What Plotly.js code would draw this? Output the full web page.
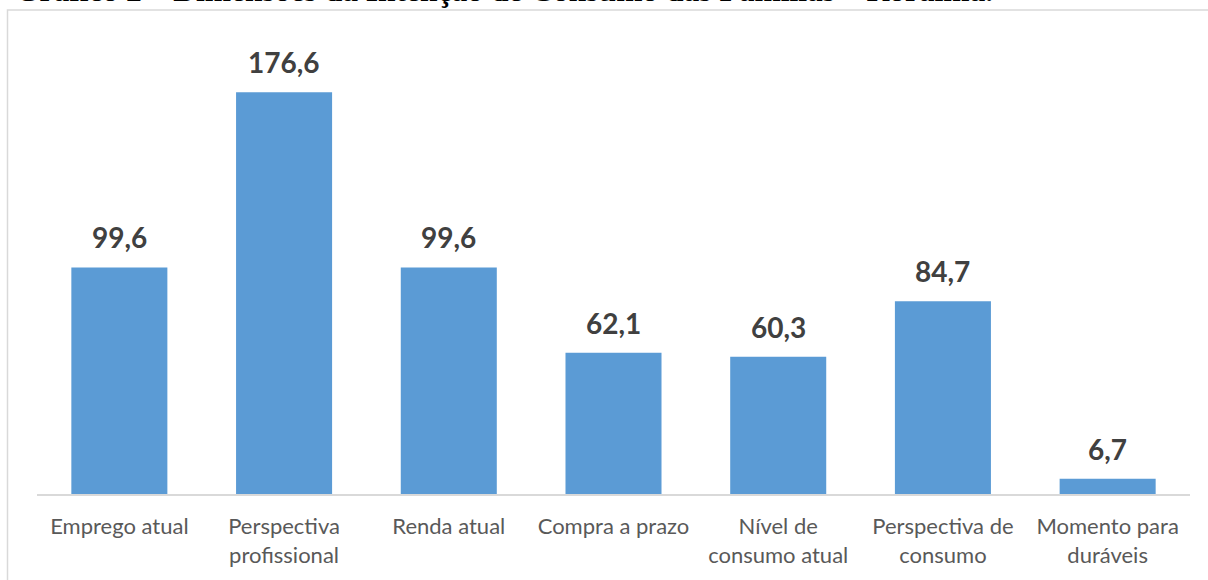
<!DOCTYPE html>
<html>
<head>
<meta charset="utf-8">
<script src="https://cdn.plot.ly/plotly-3.0.1.min.js"></script>
<style>html,body{margin:0;padding:0;background:#fff;}#chart{width:1208px;height:580px;}</style>
</head>
<body>
<div id="chart"></div>
<script>
const categories = ["Emprego atual", "Perspectiva<br>profissional", "Renda atual", "Compra a prazo", "Nível de<br>consumo atual", "Perspectiva de<br>consumo", "Momento para<br>duráveis"];
const values = [99.6, 176.6, 99.6, 62.1, 60.3, 84.7, 6.7];
const titleText = "Gráfico 2 – Dimensões da Intenção de Consumo das Famílias – Roraima.";

const W = 1208, H = 580;
const m = {l: 37, r: 18, t: 39, b: 86};
const pw = W - m.l - m.r, ph = H - m.t - m.b;
const px = x => (x - m.l) / pw;
const py = y => (H - m.b - y) / ph;

const fmt = v => v.toFixed(1).replace('.', ',');

const annotations = values.map((v, i) => ({
  x: categories[i], y: v, xref: 'x', yref: 'y',
  text: '<b>' + fmt(v) + '</b>', showarrow: false,
  yanchor: 'bottom', yshift: 11,
  font: {family: 'Lato, sans-serif', size: 28, color: '#404040'}
}));
annotations.push({
  xref: 'paper', yref: 'paper', x: px(13), y: py(-9), xanchor: 'left', yanchor: 'middle',
  text: '<b>' + titleText + '</b>', showarrow: false,
  font: {family: 'Liberation Serif, Times New Roman, serif', size: 31.5, color: '#000'}
});

Plotly.newPlot('chart', [{
  type: 'bar', x: categories, y: values,
  marker: {color: '#5B9BD5'}, hoverinfo: 'skip'
}], {
  width: W, height: H, margin: m,
  paper_bgcolor: '#fff', plot_bgcolor: '#fff',
  bargap: 0.417, showlegend: false,
  xaxis: {showline: true, linecolor: '#D9D9D9', linewidth: 1.5, ticks: '', showgrid: false,
          ticklabelstandoff: 12,
          tickfont: {family: 'Lato, sans-serif', size: 22, color: '#595959'}},
  yaxis: {range: [0, 200], visible: false, showgrid: false, zeroline: false},
  annotations: annotations,
  shapes: [{type: 'rect', xref: 'paper', yref: 'paper', x0: px(7.5), x1: px(1215), y0: py(10), y1: py(600),
            line: {color: '#D9D9D9', width: 1.5}, fillcolor: 'rgba(0,0,0,0)', layer: 'below'}]
}, {displayModeBar: false, staticPlot: true});
</script>
</body>
</html>
